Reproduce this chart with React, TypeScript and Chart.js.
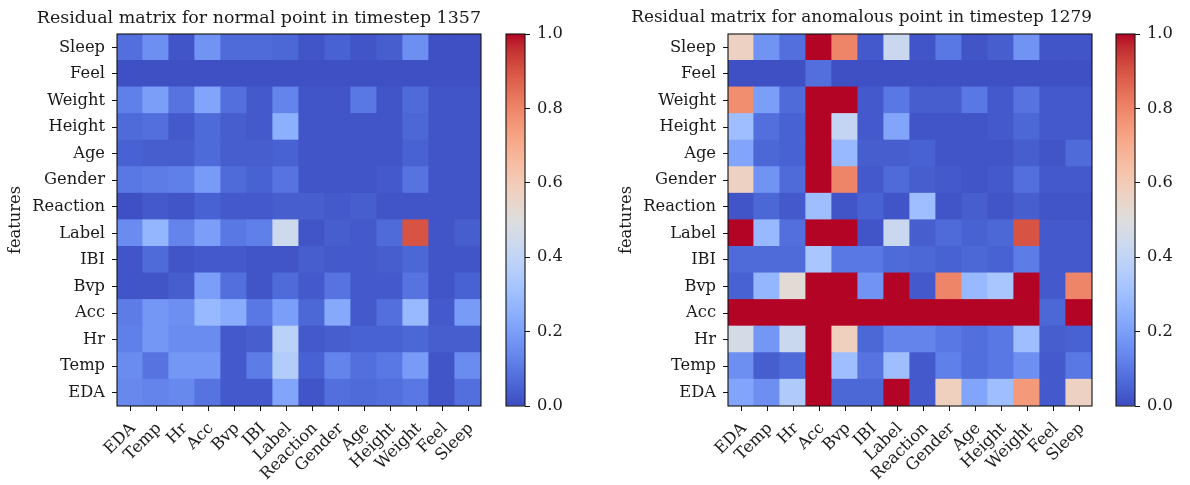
import React, { useEffect, useRef } from 'react';
import { Chart, registerables } from 'chart.js';

Chart.register(...registerables);

// Column order (x axis, left to right) == row order (y axis, bottom to top)
const featureNames = ['EDA', 'Temp', 'Hr', 'Acc', 'Bvp', 'IBI', 'Label', 'Reaction', 'Gender', 'Age', 'Height', 'Weight', 'Feel', 'Sleep'];

const normalTitle = 'Residual matrix for normal point in timestep 1357';
const anomalousTitle = 'Residual matrix for anomalous point in timestep 1279';
const yAxisTitle = 'features';

// Rows listed top to bottom as drawn: Sleep, Feel, Weight, ... , EDA
const normalResiduals: number[][] = [
  [0.08, 0.16, 0.02, 0.17, 0.07, 0.07, 0.06, 0.02, 0.05, 0.02, 0.04, 0.16, 0.01, 0.01], // Sleep
  [0.01, 0.01, 0.01, 0.01, 0.01, 0.01, 0.01, 0.01, 0.01, 0.01, 0.01, 0.01, 0.01, 0.01], // Feel
  [0.12, 0.20, 0.09, 0.22, 0.08, 0.03, 0.13, 0.02, 0.02, 0.10, 0.02, 0.07, 0.02, 0.02], // Weight
  [0.07, 0.08, 0.03, 0.07, 0.04, 0.03, 0.25, 0.02, 0.02, 0.02, 0.02, 0.06, 0.02, 0.02], // Height
  [0.05, 0.04, 0.04, 0.07, 0.04, 0.04, 0.05, 0.02, 0.02, 0.02, 0.02, 0.05, 0.02, 0.02], // Age
  [0.10, 0.11, 0.12, 0.19, 0.07, 0.05, 0.09, 0.02, 0.02, 0.02, 0.03, 0.09, 0.02, 0.02], // Gender
  [0.01, 0.03, 0.02, 0.05, 0.03, 0.03, 0.04, 0.04, 0.03, 0.04, 0.02, 0.02, 0.02, 0.02], // Reaction
  [0.15, 0.27, 0.13, 0.20, 0.10, 0.12, 0.44, 0.02, 0.04, 0.03, 0.07, 0.90, 0.02, 0.04], // Label
  [0.02, 0.07, 0.02, 0.03, 0.03, 0.02, 0.02, 0.04, 0.03, 0.03, 0.04, 0.06, 0.02, 0.02], // IBI
  [0.02, 0.02, 0.04, 0.20, 0.08, 0.02, 0.07, 0.03, 0.09, 0.03, 0.03, 0.09, 0.02, 0.05], // Bvp
  [0.11, 0.18, 0.16, 0.28, 0.24, 0.10, 0.20, 0.06, 0.23, 0.03, 0.08, 0.28, 0.03, 0.19], // Acc
  [0.12, 0.18, 0.15, 0.15, 0.03, 0.04, 0.38, 0.03, 0.04, 0.05, 0.05, 0.06, 0.04, 0.04], // Hr
  [0.15, 0.09, 0.18, 0.18, 0.03, 0.11, 0.36, 0.05, 0.13, 0.08, 0.10, 0.19, 0.02, 0.15], // Temp
  [0.14, 0.13, 0.14, 0.09, 0.03, 0.03, 0.22, 0.02, 0.08, 0.07, 0.08, 0.10, 0.02, 0.08], // EDA
];

const anomalousResiduals: number[][] = [
  [0.57, 0.17, 0.08, 1.00, 0.80, 0.03, 0.43, 0.02, 0.10, 0.02, 0.04, 0.17, 0.02, 0.02], // Sleep
  [0.01, 0.01, 0.01, 0.08, 0.01, 0.01, 0.01, 0.01, 0.01, 0.01, 0.01, 0.01, 0.01, 0.01], // Feel
  [0.78, 0.20, 0.07, 1.00, 1.00, 0.03, 0.10, 0.04, 0.04, 0.10, 0.03, 0.09, 0.03, 0.03], // Weight
  [0.30, 0.08, 0.05, 1.00, 0.41, 0.03, 0.22, 0.02, 0.02, 0.02, 0.03, 0.06, 0.03, 0.03], // Height
  [0.22, 0.06, 0.05, 1.00, 0.28, 0.04, 0.04, 0.05, 0.02, 0.02, 0.02, 0.04, 0.02, 0.07], // Age
  [0.57, 0.17, 0.07, 1.00, 0.80, 0.03, 0.07, 0.04, 0.03, 0.02, 0.03, 0.08, 0.03, 0.03], // Gender
  [0.02, 0.06, 0.03, 0.30, 0.02, 0.05, 0.02, 0.30, 0.02, 0.04, 0.02, 0.04, 0.02, 0.02], // Reaction
  [1.00, 0.28, 0.08, 1.00, 1.00, 0.02, 0.43, 0.04, 0.07, 0.05, 0.06, 0.90, 0.03, 0.03], // Label
  [0.07, 0.07, 0.07, 0.33, 0.10, 0.10, 0.07, 0.06, 0.05, 0.06, 0.05, 0.11, 0.03, 0.03], // IBI
  [0.05, 0.27, 0.52, 1.00, 1.00, 0.17, 1.00, 0.03, 0.80, 0.28, 0.33, 1.00, 0.03, 0.80], // Bvp
  [1.00, 1.00, 1.00, 1.00, 1.00, 1.00, 1.00, 1.00, 1.00, 1.00, 1.00, 1.00, 0.06, 1.00], // Acc
  [0.47, 0.18, 0.43, 1.00, 0.58, 0.06, 0.13, 0.13, 0.10, 0.08, 0.10, 0.30, 0.04, 0.05], // Hr
  [0.16, 0.04, 0.07, 1.00, 0.30, 0.09, 0.30, 0.03, 0.12, 0.08, 0.10, 0.16, 0.03, 0.10], // Temp
  [0.22, 0.16, 0.35, 1.00, 0.06, 0.06, 1.00, 0.03, 0.58, 0.22, 0.30, 0.75, 0.03, 0.57], // EDA
];

const colorbarTicks = [0.0, 0.2, 0.4, 0.6, 0.8, 1.0];

const FONT = 'DejaVu Serif';
const TEXT = '#1a1a1a';
const TICK_SIZE = 16.3;

// matplotlib "coolwarm" anchors
const COOLWARM: number[][] = [
  [59, 76, 192], [68, 90, 204], [77, 104, 215], [87, 117, 225], [98, 130, 234], [108, 142, 241],
  [119, 154, 247], [130, 165, 251], [141, 176, 254], [152, 185, 255], [163, 194, 255], [174, 201, 253],
  [184, 208, 249], [194, 213, 244], [204, 217, 238], [213, 219, 230], [221, 221, 221], [229, 216, 209],
  [236, 211, 197], [241, 204, 185], [245, 196, 173], [247, 187, 160], [247, 177, 148], [247, 166, 135],
  [244, 154, 123], [241, 141, 111], [236, 127, 99], [229, 112, 88], [222, 96, 77], [213, 80, 66],
  [203, 62, 56], [192, 40, 47], [180, 4, 38],
];

function coolwarm(v: number): string {
  const t = Math.min(1, Math.max(0, v)) * (COOLWARM.length - 1);
  const i = Math.min(Math.floor(t), COOLWARM.length - 2);
  const f = t - i;
  const a = COOLWARM[i];
  const b = COOLWARM[i + 1];
  const c = [0, 1, 2].map((k) => Math.round(a[k] + (b[k] - a[k]) * f));
  return `rgb(${c[0]},${c[1]},${c[2]})`;
}

const framePlugin = {
  id: 'frame',
  afterDraw(chart: any) {
    const { ctx, chartArea } = chart;
    if (!chartArea) return;
    ctx.save();
    ctx.strokeStyle = '#111';
    ctx.lineWidth = 1.1;
    ctx.strokeRect(chartArea.left, chartArea.top, chartArea.right - chartArea.left, chartArea.bottom - chartArea.top);
    ctx.restore();
  },
};

const AXIS_W = 117;
const PLOT_W = 364;
const H = 485;
const PLOT_BOTTOM = 406;
const PLOT_TOP = 34;

function Heatmap({ title, titleSize, matrix, left, width }: { title: string; titleSize: number; matrix: number[][]; left: number; width: number }) {
  const ref = useRef<HTMLCanvasElement>(null);
  useEffect(() => {
    if (!ref.current) return;
    const n = featureNames.length;
    const datasets = featureNames.map((name, i) => {
      const row = matrix[n - 1 - i];
      return {
        label: name,
        data: row.map(() => 1),
        backgroundColor: row.map(coolwarm),
        borderWidth: 0,
        inflateAmount: 0.6,
        categoryPercentage: 1,
        barPercentage: 1,
      };
    });
    const tickFont = { family: FONT, size: TICK_SIZE, weight: 'normal' as const };
    const titleLine = titleSize * 1.2;
    const chart = new Chart(ref.current, {
      type: 'bar',
      data: { labels: featureNames, datasets },
      options: {
        responsive: false,
        animation: false,
        devicePixelRatio: 1,
        layout: { padding: { left: 0, right: width - AXIS_W - PLOT_W, top: 0, bottom: 0 } },
        plugins: {
          legend: { display: false },
          tooltip: { enabled: false },
          title: {
            display: true,
            text: title,
            align: 'end',
            fullSize: true,
            color: TEXT,
            font: { family: FONT, size: titleSize, weight: 'normal' },
            padding: { top: 8, bottom: PLOT_TOP - 8 - titleLine },
          },
        },
        scales: {
          x: {
            stacked: true,
            offset: true,
            grid: { display: true, drawOnChartArea: false, drawTicks: true, tickLength: 5, offset: false, color: '#111' },
            border: { display: false },
            ticks: { color: TEXT, font: tickFont, minRotation: 45, maxRotation: 45, autoSkip: false, padding: 8, labelOffset: 3 },
            afterFit: (s: any) => { s.height = H - PLOT_BOTTOM; },
          },
          y: {
            stacked: true,
            min: 0,
            max: n,
            grid: { display: true, drawOnChartArea: false, drawTicks: true, tickLength: 5, color: '#111' },
            border: { display: false },
            afterBuildTicks: (s: any) => { s.ticks = featureNames.map((_, i) => ({ value: i + 0.5 })); },
            ticks: { color: TEXT, font: tickFont, padding: 7, callback: (_v: any, idx: number) => featureNames[idx] },
            title: { display: true, text: yAxisTitle, color: TEXT, font: tickFont, padding: { top: 6, bottom: 0 } },
            afterFit: (s: any) => { s.width = AXIS_W; },
          },
        },
      },
      plugins: [framePlugin],
    } as any);
    return () => chart.destroy();
  }, [title, titleSize, matrix, width]);
  return (
    <canvas ref={ref} width={width} height={H}
      style={{ position: 'absolute', left, top: 0, width, height: H }} />
  );
}

function Colorbar({ left, width }: { left: number; width: number }) {
  const ref = useRef<HTMLCanvasElement>(null);
  useEffect(() => {
    if (!ref.current) return;
    const barLeft = 11;
    const barW = 19;
    const tickFont = { family: FONT, size: TICK_SIZE, weight: 'normal' as const };
    const chart = new Chart(ref.current, {
      type: 'bar',
      data: {
        labels: [''],
        datasets: [{
          data: [1],
          borderWidth: 0,
          categoryPercentage: 1,
          barPercentage: 1,
          backgroundColor: (c: any) => {
            const ca = c.chart.chartArea;
            if (!ca) return coolwarm(0);
            const g = c.chart.ctx.createLinearGradient(0, ca.bottom, 0, ca.top);
            COOLWARM.forEach((_, i) => {
              const t = i / (COOLWARM.length - 1);
              g.addColorStop(t, coolwarm(t));
            });
            return g;
          },
        }],
      },
      options: {
        responsive: false,
        animation: false,
        devicePixelRatio: 1,
        layout: { padding: { left: barLeft, right: 0, top: PLOT_TOP, bottom: H - PLOT_BOTTOM } },
        plugins: { legend: { display: false }, tooltip: { enabled: false }, title: { display: false } },
        scales: {
          x: { display: false },
          y: {
            position: 'right',
            min: 0,
            max: 1,
            grid: { display: true, drawOnChartArea: false, drawTicks: true, tickLength: 5, color: '#111' },
            border: { display: false },
            afterBuildTicks: (s: any) => { s.ticks = colorbarTicks.map((v) => ({ value: v })); },
            ticks: { color: TEXT, font: tickFont, padding: 7, callback: (_v: any, idx: number) => colorbarTicks[idx].toFixed(1) },
            afterFit: (s: any) => { s.width = width - barLeft - barW; },
          },
        },
      },
      plugins: [framePlugin],
    } as any);
    return () => chart.destroy();
  }, [width]);
  return (
    <canvas ref={ref} width={width} height={H}
      style={{ position: 'absolute', left, top: 0, width, height: H }} />
  );
}

export default function App() {
  return (
    <div style={{ position: 'absolute', left: 0, top: 0, width: 1190, height: H, background: '#fff', overflow: 'hidden' }}>
      <Heatmap title={normalTitle} titleSize={17.45} matrix={normalResiduals} left={0} width={495} />
      <Colorbar left={495} width={80} />
      <Heatmap title={anomalousTitle} titleSize={16.85} matrix={anomalousResiduals} left={611} width={494} />
      <Colorbar left={1105} width={80} />
    </div>
  );
}
